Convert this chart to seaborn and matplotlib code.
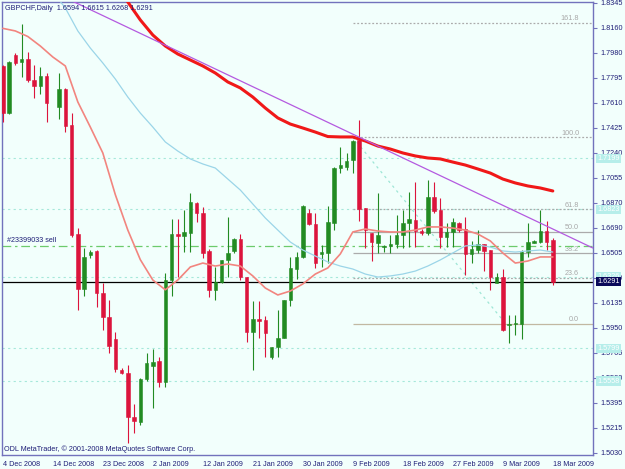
import numpy as np
import pandas as pd
import matplotlib
matplotlib.use('Agg')
import matplotlib.pyplot as plt
import matplotlib.transforms as mtransforms
import seaborn as sns

nan = np.nan

# GBPCHF daily candles, 4 Dec 2008 .. 18 Mar 2009 (bar index 0..88)
opens = [1.7879, 1.7535, 1.7960, 1.7908, 1.7928, 1.7776, 1.7731, 1.7805, nan, 1.7574,
         1.7707, 1.7444, 1.6639, 1.6236, 1.6486, 1.6518, 1.6209, 1.6032, 1.5865, 1.5639,
         1.5619, 1.5295, 1.5258, 1.5573, 1.5671, 1.5708, 1.5553, 1.6302, 1.6641, 1.6628,
         1.6646, 1.6872, 1.6798, 1.6516, 1.6228, 1.6290, 1.6450, 1.6518, 1.6602, 1.6326,
         1.5917, 1.6015, 1.6008, 1.5737, 1.5806, 1.5873, 1.6155, 1.6381, 1.6474, 1.6794,
         1.6715, 1.6494, 1.6499, 1.6724, 1.7125, 1.7137, 1.7186, 1.7334, 1.6830, 1.6651,
         1.6577, 1.6548, 1.6555, 1.6567, 1.6634, 1.6724, 1.6744, 1.6665, 1.6646, 1.6911,
         1.6818, 1.6617, 1.6658, 1.6720, 1.6676, 1.6494, 1.6523, 1.6567, 1.6523, 1.6282,
         1.6326, 1.5971, 1.5976, 1.5978, 1.6511, 1.6577, 1.6584, 1.6665, 1.6594]
highs = [1.7886, 1.7918, 1.7977, 1.8188, 1.7984, 1.7886, 1.7874, 1.7829, nan, 1.7825,
         1.7714, 1.7535, 1.6687, 1.6536, 1.6523, 1.6523, 1.6282, 1.6155, 1.5921, 1.5656,
         1.5676, 1.5389, 1.5578, 1.5762, 1.5792, 1.5733, 1.6352, 1.6749, 1.6749, 1.6818,
         1.6945, 1.6879, 1.6840, 1.6531, 1.6400, 1.6450, 1.6764, 1.6614, 1.6639, 1.6326,
         1.6147, 1.6147, 1.6037, 1.5806, 1.6081, 1.6155, 1.6474, 1.6511, 1.6855, 1.6823,
         1.6794, 1.6560, 1.6850, 1.7137, 1.7284, 1.7236, 1.7334, 1.7481, 1.6830, 1.6651,
         1.6941, 1.6560, 1.6634, 1.6781, 1.6818, 1.6953, 1.7026, 1.6676, 1.7039, 1.7026,
         1.6904, 1.6724, 1.6757, 1.6732, 1.6764, 1.6592, 1.6670, 1.6567, 1.6523, 1.6356,
         1.6381, 1.6044, 1.6044, 1.6523, 1.6724, 1.6597, 1.6818, 1.6739, 1.6615]
lows = [1.7468, 1.7525, 1.7886, 1.7800, 1.7763, 1.7645, 1.7672, 1.7468, nan, 1.7486,
        1.7395, 1.6617, 1.6081, 1.6187, 1.6462, 1.6106, 1.5934, 1.5762, 1.5627, 1.5610,
        1.5099, 1.5173, 1.5234, 1.5558, 1.5357, 1.5516, 1.5512, 1.6184, 1.6326, 1.6506,
        1.6506, 1.6732, 1.6464, 1.6179, 1.6155, 1.6278, 1.6326, 1.6499, 1.6302, 1.5848,
        1.5639, 1.5873, 1.5737, 1.5720, 1.5737, 1.5873, 1.6111, 1.6307, 1.6462, 1.6707,
        1.6388, 1.6400, 1.6425, 1.6670, 1.7088, 1.7113, 1.7088, 1.6739, 1.6536, 1.6444,
        1.6499, 1.6511, 1.6499, 1.6536, 1.6536, 1.6548, 1.6548, 1.6634, 1.6634, 1.6794,
        1.6536, 1.6548, 1.6548, 1.6658, 1.6339, 1.6425, 1.6503, 1.6371, 1.6228, 1.6278,
        1.5929, 1.5840, 1.5897, 1.5865, 1.6469, 1.6572, 1.6577, 1.6523, 1.6268]
closes = [1.7535, 1.7910, 1.7899, 1.7928, 1.7776, 1.7731, 1.7805, 1.7608, nan, 1.7707,
          1.7437, 1.6634, 1.6236, 1.6474, 1.6511, 1.6209, 1.6032, 1.5818, 1.5646, 1.5615,
          1.5295, 1.5266, 1.5573, 1.5693, 1.5700, 1.5553, 1.6302, 1.6639, 1.6626, 1.6654,
          1.6875, 1.6798, 1.6499, 1.6228, 1.6290, 1.6450, 1.6499, 1.6604, 1.6322, 1.5917,
          1.6015, 1.6002, 1.5910, 1.5806, 1.5877, 1.6155, 1.6393, 1.6474, 1.6847, 1.6715,
          1.6425, 1.6506, 1.6732, 1.7129, 1.7149, 1.7181, 1.7328, 1.6823, 1.6670, 1.6584,
          1.6634, 1.6555, 1.6567, 1.6634, 1.6724, 1.6749, 1.6665, 1.6646, 1.6911, 1.6813,
          1.6617, 1.6654, 1.6732, 1.6670, 1.6494, 1.6528, 1.6567, 1.6518, 1.6326, 1.6322,
          1.5934, 1.5978, 1.5983, 1.6511, 1.6584, 1.6592, 1.6665, 1.6584, 1.6291]

date_ticks = [0, 8, 16, 24, 32, 40, 48, 56, 64, 72, 80, 88]
date_labels = ['4 Dec 2008', '14 Dec 2008', '23 Dec 2008', '2 Jan 2009', '12 Jan 2009',
               '21 Jan 2009', '30 Jan 2009', '9 Feb 2009', '18 Feb 2009', '27 Feb 2009',
               '9 Mar 2009', '18 Mar 2009']
price_labels = ['1.5030', '1.5215', '1.5395', '1.5580', '1.5765', '1.5950', '1.6135',
                '1.6320', '1.6505', '1.6690', '1.6870', '1.7055', '1.7240', '1.7425',
                '1.7610', '1.7795', '1.7980', '1.8160', '1.8345']

# moving averages (bar index, value)
ma_slow_idx = list(range(18, 89, 2))
ma_slow = [1.8475, 1.8350, 1.8218, 1.8107, 1.8026, 1.7967, 1.7923, 1.7879, 1.7827, 1.7761,
           1.7717, 1.7650, 1.7569, 1.7496, 1.7451, 1.7422, 1.7392, 1.7359, 1.7356, 1.7356,
           1.7326, 1.7289, 1.7267, 1.7238, 1.7216, 1.7201, 1.7194, 1.7171, 1.7149, 1.7120,
           1.7090, 1.7046, 1.7017, 1.6995, 1.6980, 1.6958]
ma_fast_idx = list(range(0, 89, 2))
ma_fast = [1.8156, 1.8137, 1.8096, 1.8026, 1.7945, 1.7879, 1.7614, 1.7429, 1.7238, 1.6931,
           1.6670, 1.6452, 1.6302, 1.6230, 1.6302, 1.6398, 1.6427, 1.6405, 1.6420, 1.6405,
           1.6332, 1.6243, 1.6192, 1.6221, 1.6273, 1.6346, 1.6391, 1.6494, 1.6656, 1.6678,
           1.6663, 1.6656, 1.6656, 1.6670, 1.6693, 1.6693, 1.6685, 1.6670, 1.6641, 1.6590,
           1.6501, 1.6427, 1.6442, 1.6472, 1.6472]
ma_mid_idx = [9] + list(range(10, 89, 2))
ma_mid = [1.8365, 1.8306, 1.8137, 1.8011, 1.7901, 1.7783, 1.7650, 1.7532, 1.7429, 1.7319,
          1.7252, 1.7194, 1.7157, 1.7127, 1.7046, 1.6965, 1.6862, 1.6759, 1.6670, 1.6582,
          1.6523, 1.6479, 1.6435, 1.6405, 1.6383, 1.6346, 1.6324, 1.6332, 1.6346, 1.6368,
          1.6405, 1.6450, 1.6501, 1.6553, 1.6560, 1.6545, 1.6516, 1.6508, 1.6516, 1.6523,
          1.6508]

# drawn objects
trend_x = [11.2, 94.4]
trend_y = [1.8355, 1.6538]
fib_start = 56
fib_names = ['0.0', '23.6', '38.2', '50.0', '61.8', '100.0', '161.8']
fib_prices = [1.5978, 1.6317, 1.6499, 1.6658, 1.6823, 1.7353, 1.8198]
fib_solid = [True, False, True, True, False, False, False]
fib_diag_x = [56, 80.5]
fib_diag_y = [1.7353, 1.5978]
user_lines = [1.7199, 1.6823, 1.6326, 1.5799, 1.5558]
order_price = 1.6555
bid_price = 1.6291

sns.set_style('white')
plt.rcParams['font.family'] = ['Liberation Sans', 'DejaVu Sans']

BG = '#F2FFFC'
NAVY = '#1F1F78'
FRAME = '#7272BC'
BULL = '#228B22'
BEAR = '#DC143C'
FS = 5.2

fig = plt.figure(figsize=(6.25, 4.69), dpi=100)
fig.patch.set_facecolor(BG)
ax = fig.add_axes([2 / 625, 14 / 469, 591 / 625, 453 / 469])
ax.set_facecolor(BG)

df = pd.DataFrame({'open': opens, 'high': highs, 'low': lows, 'close': closes})
df['idx'] = np.arange(len(df))
df = df.dropna()
cols = np.where(df['close'] >= df['open'], BULL, BEAR)

# horizontal objects behind the candles
for p in user_lines:
    ax.axhline(p, color='#A6E8DA', lw=0.8, ls=(0, (2, 3)), zorder=1)
for name, p, solid in zip(fib_names, fib_prices, fib_solid):
    c = '#C2B8A2' if name == '0.0' else '#ABABAB'
    ax.hlines(p, fib_start, 100, color=c, lw=0.9, ls='-' if solid else (0, (1.5, 1.5)), zorder=1)
    ax.text(92.2, p + 0.0004, name, ha='right', va='bottom', fontsize=FS, color='#A8A8A8', zorder=1)
ax.plot(fib_diag_x, fib_diag_y, color='#9EE6D6', lw=0.9, ls=(0, (2, 3)), zorder=1)
ax.axhline(order_price, color='#6CCB6C', lw=0.9, ls=(0, (7, 3, 2, 3)), zorder=1)
ax.axhline(bid_price, color='black', lw=0.9, zorder=2)

# candles
ax.vlines(df['idx'], df['low'], df['high'], colors=cols, lw=0.8, zorder=3)
ax.bar(df['idx'], df['close'] - df['open'], bottom=df['open'], width=0.55,
       color=cols, edgecolor=cols, lw=0.4, zorder=4)

# indicators
sns.lineplot(x=ma_mid_idx, y=ma_mid, ax=ax, color='#9BD5E8', lw=0.9, zorder=5)
sns.lineplot(x=ma_fast_idx, y=ma_fast, ax=ax, color='#F2857F', lw=1.2, zorder=5)
sns.lineplot(x=ma_slow_idx, y=ma_slow, ax=ax, color='#F01818', lw=2.2, zorder=6)
ax.plot(trend_x, trend_y, color='#B45AE0', lw=0.9, zorder=6)

ax.set_xlim(-0.13, 94.43)
ax.set_ylim(1.50129, 1.83502)

ax.yaxis.tick_right()
ax.set_yticks(np.linspace(1.5030, 1.8345, len(price_labels)))
ax.set_yticklabels(price_labels)
ax.set_xticks(date_ticks)
ax.set_xticklabels(date_labels, ha='left')
ax.tick_params(axis='y', direction='out', length=3, width=0.8, color=FRAME,
               labelsize=FS, labelcolor=NAVY, pad=2)
ax.tick_params(axis='x', direction='out', length=3, width=0.8, color=FRAME,
               labelsize=FS, labelcolor=NAVY, pad=1)
ax.set_xlabel('')
ax.set_ylabel('')
for s in ax.spines.values():
    s.set_color(FRAME)
    s.set_linewidth(1.0)

# price boxes on the right scale
trans = mtransforms.blended_transform_factory(ax.transAxes, ax.transData)
for p in user_lines:
    ax.text(1.0075, p, f'{p:.4f}', transform=trans, ha='left', va='center', fontsize=FS,
            color='white', clip_on=False, zorder=7,
            bbox=dict(boxstyle='square,pad=0.15', fc='#B6EEEA', ec='none'))
ax.text(1.0075, bid_price, f'{bid_price:.4f}', transform=trans, ha='left', va='center',
        fontsize=FS, color='white', clip_on=False, zorder=7,
        bbox=dict(boxstyle='square,pad=0.15', fc='#0A0A5A', ec='none'))

fig.text(5 / 625, 1 - 8 / 469, 'GBPCHF,Daily  1.6594 1.6615 1.6268 1.6291',
         fontsize=FS, color=NAVY, va='center', ha='left')
fig.text(7 / 625, 1 - 241 / 469, '#23399033 sell', fontsize=FS, color=NAVY, va='center', ha='left')
fig.text(4 / 625, 1 - 449 / 469, 'ODL MetaTrader, \u00a9 2001-2008 MetaQuotes Software Corp.',
         fontsize=FS, color=NAVY, va='center', ha='left')

fig.savefig('out.png', dpi=100, facecolor=BG)
